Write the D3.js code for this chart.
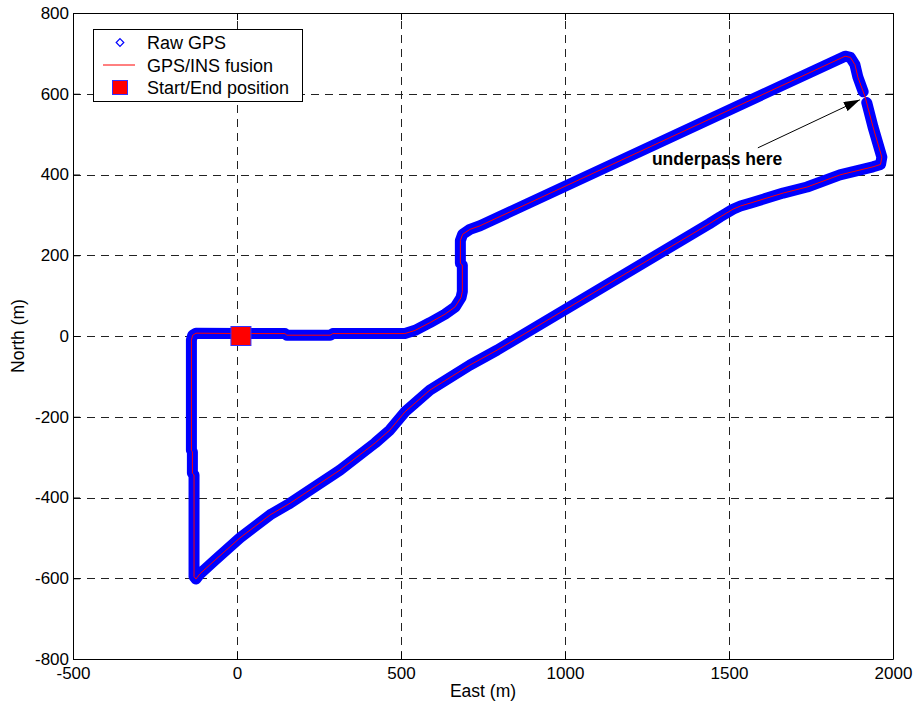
<!DOCTYPE html>
<html>
<head>
<meta charset="utf-8">
<script src="https://cdn.jsdelivr.net/npm/d3@7"></script>
<style>
  html, body { margin: 0; padding: 0; background: #fff; }
  svg { display: block; font-family: "Liberation Sans", Arial, sans-serif; }
</style>
</head>
<body>
<svg id="chart" width="914" height="708"></svg>
<script>
// Axis ticks
const xTicks = [-500, 0, 500, 1000, 1500, 2000];
const yTicks = [-800, -600, -400, -200, 0, 200, 400, 600, 800];

// GPS/INS fusion trajectory (metres, local East/North frame)
const fusionEast = [12, 146, 152, 284, 292, 512, 543, 588, 634, 665, 683, 687, 687, 681, 681, 688, 710, 741,
  1854, 1870, 1884, 1893, 1915, 1939, 1966, 1962, 1939, 1838, 1738, 1665, 1564, 1535, 1512, 1473, 1440,
  793, 710, 588, 512, 466, 421, 314, 223, 162, 101, 9, -67, -113, -125, -131, -131, -136, -136, -139, -139, -135, -125, 12];
const fusionNorth = [6, 6, 2, 2, 6, 6, 14, 33, 54, 72, 95, 110, 176, 180, 236, 252, 264, 273,
  693, 690, 672, 641, 592, 518, 443, 425, 419, 399, 369, 354, 329, 322, 314, 295, 278,
  -35, -72, -134, -188, -233, -265, -332, -381, -414, -443, -500, -555, -589, -602, -596, -344, -340, -287, -283, -10, 2, 7, 6];

// Raw GPS fixes (no fixes while passing under the bridge: null marks the gap)
const gpsEast = [12, 146, 152, 284, 292, 512, 543, 588, 634, 665, 683, 687, 687, 681, 681, 688, 710, 741,
  1854, 1870, 1884, 1893, 1909, null, 1920, 1939, 1966, 1962, 1939, 1838, 1738, 1665, 1564, 1535, 1512, 1473, 1440,
  793, 710, 588, 512, 466, 421, 314, 223, 162, 101, 9, -67, -113, -125, -131, -131, -136, -136, -139, -139, -135, -125, 12];
const gpsNorth = [6, 6, 2, 2, 6, 6, 14, 33, 54, 72, 95, 110, 176, 180, 236, 252, 264, 273,
  693, 690, 672, 641, 605, null, 578, 518, 443, 425, 419, 399, 369, 354, 329, 322, 314, 295, 278,
  -35, -72, -134, -188, -233, -265, -332, -381, -414, -443, -500, -555, -589, -602, -596, -344, -340, -287, -283, -10, 2, 7, 6];

// Start/End position
const startEast = [12];
const startNorth = [0];

// Annotation
const noteText = "underpass here";
const noteAt = [1265, 424];
const arrowFrom = [1588, 466];
const arrowTo = [1899, 585];

const legendLabels = ["Raw GPS", "GPS/INS fusion", "Start/End position"];

const svg = d3.select("#chart");
const plot = { left: 73, right: 893, top: 13, bottom: 659 };

const x = d3.scaleLinear().domain([-500, 2000]).range([plot.left, plot.right]);
const y = d3.scaleLinear().domain([-800, 800]).range([plot.bottom, plot.top]);

svg.append("rect").attr("width", 914).attr("height", 708).attr("fill", "#fff");

// Dashed grid
const grid = svg.append("g").attr("stroke", "#222").attr("stroke-width", 1)
  .attr("stroke-dasharray", "8,6").attr("shape-rendering", "crispEdges");
grid.selectAll("line.gx").data(xTicks.slice(1, -1)).join("line")
  .attr("x1", d => Math.round(x(d)) + 0.5).attr("x2", d => Math.round(x(d)) + 0.5)
  .attr("y1", plot.bottom).attr("y2", plot.top);
grid.selectAll("line.gy").data(yTicks.slice(1, -1)).join("line")
  .attr("y1", d => Math.round(y(d)) + 0.5).attr("y2", d => Math.round(y(d)) + 0.5)
  .attr("x1", plot.left).attr("x2", plot.right);

// Tracks
const gpsPts = gpsEast.map((e, i) => [e, gpsNorth[i]]);
const fusionPts = fusionEast.map((e, i) => [e, fusionNorth[i]]);
const line = d3.line().defined(d => d[0] !== null && d[1] !== null)
  .x(d => x(d[0])).y(d => y(d[1])).curve(d3.curveLinear);

svg.append("path").datum(gpsPts).attr("d", line)
  .attr("fill", "none").attr("stroke", "#0000ff").attr("stroke-width", 11)
  .attr("stroke-linejoin", "round").attr("stroke-linecap", "round");
svg.append("path").datum(fusionPts).attr("d", line)
  .attr("fill", "none").attr("stroke", "#ff0000").attr("stroke-width", 1)
  .attr("stroke-linejoin", "round");

// Start/End marker
svg.selectAll("rect.start").data(startEast).join("rect")
  .attr("x", (d, i) => x(d) - 10).attr("y", (d, i) => y(startNorth[i]) - 9.5)
  .attr("width", 20).attr("height", 19)
  .attr("fill", "#ff0000").attr("stroke", "#3333ff").attr("stroke-width", 1);

// Annotation arrow and text
svg.append("defs").append("marker")
  .attr("id", "head").attr("viewBox", "0 0 16 10").attr("refX", 16).attr("refY", 5)
  .attr("markerWidth", 16).attr("markerHeight", 10).attr("markerUnits", "userSpaceOnUse")
  .attr("orient", "auto")
  .append("path").attr("d", "M0,0 L16,5 L0,10 Z").attr("fill", "#000");
svg.append("line")
  .attr("x1", x(arrowFrom[0])).attr("y1", y(arrowFrom[1]))
  .attr("x2", x(arrowTo[0])).attr("y2", y(arrowTo[1]))
  .attr("stroke", "#000").attr("stroke-width", 1).attr("marker-end", "url(#head)");
svg.append("text").attr("x", x(noteAt[0])).attr("y", y(noteAt[1]))
  .attr("font-size", 17.5).attr("font-weight", "bold").attr("fill", "#000").text(noteText);

// Axes: box with inward ticks
const tickLen = 7;
function styleAxis(g) {
  g.selectAll(".domain").attr("stroke", "#000").attr("fill", "none");
  g.selectAll(".tick line").attr("stroke", "#000");
  g.selectAll("text").attr("font-size", 17).attr("fill", "#000")
    .attr("font-family", "'Liberation Sans', Arial, sans-serif");
}
svg.append("g").attr("transform", `translate(0,${plot.bottom})`)
  .call(d3.axisBottom(x).tickValues(xTicks).tickSizeInner(-tickLen).tickSizeOuter(0).tickPadding(8).tickFormat(d3.format("d")))
  .call(styleAxis);
svg.append("g").attr("transform", `translate(0,${plot.top})`)
  .call(d3.axisTop(x).tickValues(xTicks).tickSizeInner(-tickLen).tickSizeOuter(0).tickFormat(""))
  .call(styleAxis);
svg.append("g").attr("transform", `translate(${plot.left},0)`)
  .call(d3.axisLeft(y).tickValues(yTicks).tickSizeInner(-tickLen).tickSizeOuter(0).tickPadding(4).tickFormat(d3.format("d")))
  .call(styleAxis);
svg.append("g").attr("transform", `translate(${plot.right},0)`)
  .call(d3.axisRight(y).tickValues(yTicks).tickSizeInner(-tickLen).tickSizeOuter(0).tickFormat(""))
  .call(styleAxis);
// Plain hyphen for negative tick labels
svg.selectAll(".tick text").text(function () { return this.textContent.replace("\u2212", "-"); });

// Axis titles
svg.append("text").attr("x", (plot.left + plot.right) / 2).attr("y", 697)
  .attr("text-anchor", "middle").attr("font-size", 17.5).text("East (m)");
svg.append("text").attr("transform", `translate(24,${(plot.top + plot.bottom) / 2}) rotate(-90)`)
  .attr("text-anchor", "middle").attr("font-size", 17.5).text("North (m)");

// Legend
const lg = svg.append("g");
lg.append("rect").attr("x", 93.5).attr("y", 29.5).attr("width", 209).attr("height", 72)
  .attr("fill", "#fff").attr("stroke", "#000").attr("stroke-width", 1);
const rowY = [42.5, 65, 87.5];
lg.append("path")
  .attr("d", "M0,-3.8 L3.8,0 L0,3.8 L-3.8,0 Z")
  .attr("transform", `translate(120,${rowY[0]})`)
  .attr("fill", "none").attr("stroke", "#0000ff").attr("stroke-width", 1.2);
lg.append("line").attr("x1", 103).attr("x2", 135).attr("y1", rowY[1]).attr("y2", rowY[1])
  .attr("stroke", "#ff0000").attr("stroke-width", 1);
lg.append("rect").attr("x", 112.5).attr("y", rowY[2] - 7).attr("width", 15).attr("height", 14)
  .attr("fill", "#ff0000").attr("stroke", "#3333ff").attr("stroke-width", 1);
lg.selectAll("text.lab").data(legendLabels).join("text")
  .attr("x", 147).attr("y", (d, i) => rowY[i] + 6.5)
  .attr("font-size", 18).attr("fill", "#000").text(d => d);
</script>
</body>
</html>
